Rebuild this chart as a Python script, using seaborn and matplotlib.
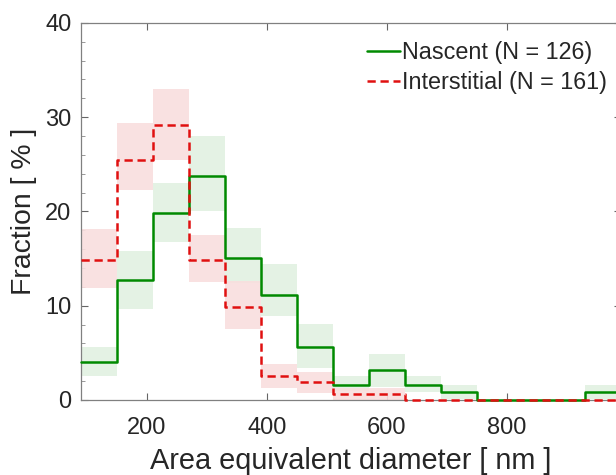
import numpy as np
import pandas as pd
import matplotlib
matplotlib.use("Agg")
import matplotlib.pyplot as plt
import seaborn as sns

# bin edges (nm)
bin_edges = [90, 150, 210, 270, 330, 390, 450, 510, 570, 630, 690, 750, 810, 870, 930, 990]

# Nascent (N = 126): fraction [%] and band limits
nascent_frac = [4.0, 12.7, 19.8, 23.8, 15.1, 11.1, 5.6, 1.6, 3.2, 1.6, 0.8, 0, 0, 0, 0.8]
nascent_low = [2.5, 9.7, 16.8, 20.0, 12.4, 8.9, 3.4, 0.9, 1.4, 0.8, 0.1, 0, 0, 0, 0.1]
nascent_high = [5.6, 15.8, 23.0, 28.0, 18.2, 14.4, 8.1, 2.5, 4.9, 2.5, 1.6, 0, 0, 0, 1.6]

# Interstitial (N = 161)
inter_frac = [14.9, 25.5, 29.2, 14.9, 9.9, 2.5, 1.9, 0.6, 0.6, 0, 0, 0, 0, 0, 0]
inter_low = [11.9, 22.3, 25.5, 12.5, 7.5, 1.3, 0.7, 0.0, 0.0, 0, 0, 0, 0, 0, 0]
inter_high = [18.1, 29.4, 33.0, 17.5, 12.6, 3.8, 3.0, 1.3, 1.3, 0, 0, 0, 0, 0, 0]

labels = ["Nascent (N = 126)", "Interstitial (N = 161)"]
green = "#008a00"
red = "#e01010"

sns.set_style("ticks")
plt.rcParams["font.family"] = ["Liberation Sans", "DejaVu Sans"]

edges = np.array(bin_edges)
centers = (edges[:-1] + edges[1:]) / 2
widths = np.diff(edges)

fig = plt.figure(figsize=(6.16, 4.75), dpi=100)
ax = fig.add_axes([0.1315, 0.158, 0.8766, 0.7937])

# shaded bands
for low, high, col in [(nascent_low, nascent_high, "#e2f1e2"), (inter_low, inter_high, "#f9dede")]:
    low = np.array(low)
    high = np.array(high)
    ax.bar(edges[:-1], high - low, bottom=low, width=widths, align="edge",
           color=col, alpha=0.9, linewidth=0, zorder=1)

df_n = pd.DataFrame({"d": centers, "frac": nascent_frac})
df_i = pd.DataFrame({"d": centers, "frac": inter_frac})
sns.histplot(data=df_n, x="d", weights="frac", bins=bin_edges, element="step", fill=False,
             color=green, linewidth=1.8, ax=ax, label=labels[0], zorder=3, clip_on=False)
sns.histplot(data=df_i, x="d", weights="frac", bins=bin_edges, element="step", fill=False,
             color=red, linewidth=1.8, linestyle=(0, (3.3, 1.9)), ax=ax, label=labels[1],
             zorder=4, clip_on=False)

ax.set_xlim(90, 990)
ax.set_ylim(0, 40)
ax.set_xticks([200, 400, 600, 800])
ax.set_yticks([0, 10, 20, 30, 40])
ax.set_yticks(np.arange(0, 41, 2), minor=True)

for s in ax.spines.values():
    s.set_visible(True)
    s.set_color("#808080")
    s.set_linewidth(0.9)
ax.tick_params(axis="both", which="major", direction="in", length=5, width=0.8,
               color="#666666", labelsize=17, labelcolor="#262626",
               top=True, right=True)
ax.tick_params(axis="x", which="major", pad=12)
ax.tick_params(axis="y", which="major", pad=7)
ax.tick_params(axis="y", which="minor", direction="in", length=3, width=0.6,
               color="#888888", right=True)

ax.set_xlabel("Area equivalent diameter [ nm ]", fontsize=20.8, color="#262626", labelpad=6)
ax.set_ylabel("Fraction [ % ]", fontsize=20.4, color="#262626", labelpad=6)

ax.legend(loc="upper right", bbox_to_anchor=(1.0, 0.99), frameon=False, fontsize=16.8,
          handlelength=1.4, handletextpad=0.1, labelspacing=0.3, borderaxespad=0.2)

fig.savefig("out.png", dpi=100)
plt.close(fig)
